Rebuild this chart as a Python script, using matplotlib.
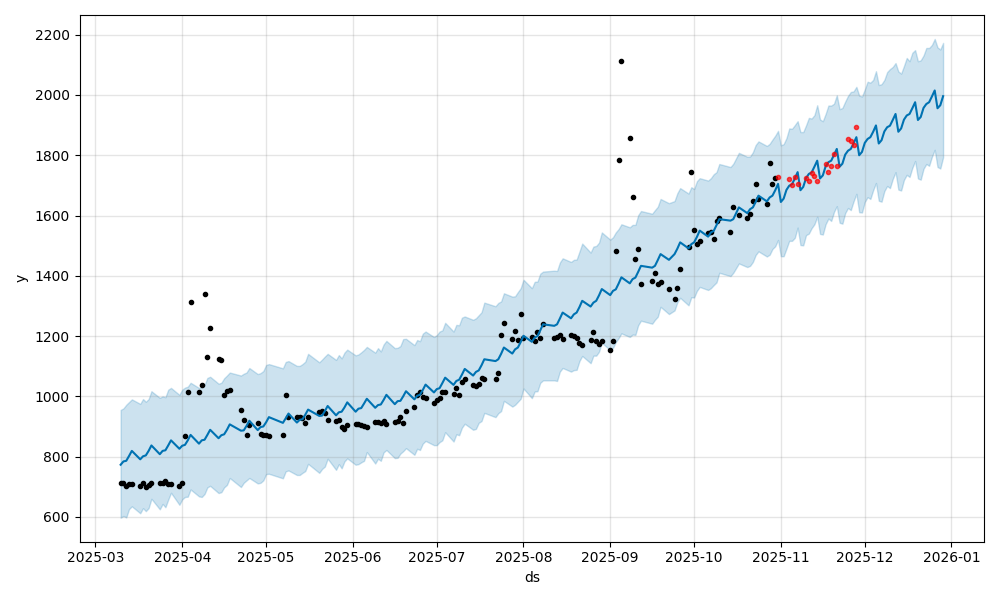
import matplotlib
matplotlib.use("Agg")
import matplotlib.pyplot as plt
import pandas as pd

# ---------------- observed (training) data, business days ----------------
train_weeks = [
    (["2025-03-10", "2025-03-11", "2025-03-12", "2025-03-13", "2025-03-14"], [712, 712, 701, 710, 710]),
    (["2025-03-17", "2025-03-18", "2025-03-19", "2025-03-20", "2025-03-21"], [703, 712, 699, 706, 712]),
    (["2025-03-24", "2025-03-25", "2025-03-26", "2025-03-27", "2025-03-28"], [712, 714, 718, 710, 710]),
    (["2025-03-31", "2025-04-01", "2025-04-02", "2025-04-03", "2025-04-04"], [701, 712, 867, 1014, 1313]),
    (["2025-04-07", "2025-04-08", "2025-04-09", "2025-04-10", "2025-04-11"], [1014, 1037, 1339, 1130, 1226]),
    (["2025-04-14", "2025-04-15", "2025-04-16", "2025-04-17", "2025-04-18"], [1124, 1122, 1004, 1018, 1022]),
    (["2025-04-22", "2025-04-23", "2025-04-24", "2025-04-25"], [955, 922, 871, 905]),
    (["2025-04-28", "2025-04-29", "2025-04-30", "2025-05-01", "2025-05-02"], [911, 876, 872, 872, 870]),
    (["2025-05-07", "2025-05-08", "2025-05-09"], [871, 1005, 931]),
    (["2025-05-12", "2025-05-13", "2025-05-14", "2025-05-15", "2025-05-16"], [931, 931, 928, 911, 931]),
    (["2025-05-20", "2025-05-21", "2025-05-22", "2025-05-23"], [948, 951, 944, 921]),
    (["2025-05-26", "2025-05-27", "2025-05-28", "2025-05-29", "2025-05-30"], [918, 921, 898, 891, 904]),
    (["2025-06-02", "2025-06-03", "2025-06-04", "2025-06-05", "2025-06-06"], [908, 908, 904, 901, 898]),
    (["2025-06-09", "2025-06-10", "2025-06-11", "2025-06-12", "2025-06-13"], [914, 914, 911, 918, 908]),
    (["2025-06-16", "2025-06-17", "2025-06-18", "2025-06-19", "2025-06-20"], [914, 918, 931, 911, 951]),
    (["2025-06-23", "2025-06-24", "2025-06-25", "2025-06-26", "2025-06-27"], [964, 1004, 1016, 999, 996]),
    (["2025-06-30", "2025-07-01", "2025-07-02", "2025-07-03", "2025-07-04"], [979, 987, 994, 1013, 1016]),
    (["2025-07-07", "2025-07-08", "2025-07-09", "2025-07-10", "2025-07-11"], [1007, 1027, 1004, 1049, 1057]),
    (["2025-07-14", "2025-07-15", "2025-07-16", "2025-07-17", "2025-07-18"], [1036, 1033, 1040, 1062, 1057]),
    (["2025-07-22", "2025-07-23", "2025-07-24", "2025-07-25"], [1057, 1079, 1203, 1243]),
    (["2025-07-28", "2025-07-29", "2025-07-30", "2025-07-31", "2025-08-01"], [1190, 1216, 1187, 1273, 1193]),
    (["2025-08-04", "2025-08-05", "2025-08-06", "2025-08-07", "2025-08-08"], [1196, 1183, 1213, 1193, 1240]),
    (["2025-08-12", "2025-08-13", "2025-08-14", "2025-08-15"], [1193, 1196, 1203, 1190]),
    (["2025-08-18", "2025-08-19", "2025-08-20", "2025-08-21", "2025-08-22"], [1203, 1200, 1193, 1177, 1170]),
    (["2025-08-25", "2025-08-26", "2025-08-27", "2025-08-28", "2025-08-29"], [1187, 1213, 1183, 1173, 1183]),
    (["2025-09-01", "2025-09-02", "2025-09-03", "2025-09-04", "2025-09-05"], [1154, 1183, 1482, 1785, 2114]),
    (["2025-09-08", "2025-09-09", "2025-09-10", "2025-09-11", "2025-09-12"], [1857, 1662, 1455, 1489, 1372]),
    (["2025-09-16", "2025-09-17", "2025-09-18", "2025-09-19"], [1383, 1409, 1372, 1380]),
    (["2025-09-22", "2025-09-24", "2025-09-25", "2025-09-26"], [1356, 1324, 1359, 1422]),
    (["2025-09-29", "2025-09-30", "2025-10-01", "2025-10-02", "2025-10-03"], [1497, 1744, 1553, 1507, 1515]),
    (["2025-10-06", "2025-10-07", "2025-10-08", "2025-10-09", "2025-10-10"], [1542, 1547, 1522, 1582, 1592]),
    (["2025-10-14", "2025-10-15", "2025-10-17"], [1545, 1629, 1601]),
    (["2025-10-20", "2025-10-21", "2025-10-22", "2025-10-23", "2025-10-24"], [1592, 1605, 1648, 1704, 1656]),
    (["2025-10-27", "2025-10-28", "2025-10-29", "2025-10-30"], [1638, 1774, 1704, 1725]),
]

# ---------------- test data (red) ----------------
test_dates = ["2025-10-31", "2025-11-04", "2025-11-05", "2025-11-06", "2025-11-07",
              "2025-11-10", "2025-11-11", "2025-11-12", "2025-11-13", "2025-11-14",
              "2025-11-17", "2025-11-18", "2025-11-19", "2025-11-20", "2025-11-21",
              "2025-11-25", "2025-11-26", "2025-11-27", "2025-11-28"]
test_values = [1728, 1721, 1701, 1728, 1704,
               1724, 1714, 1741, 1731, 1714,
               1771, 1744, 1764, 1804, 1764,
               1854, 1847, 1834, 1894]

# ---------------- forecast on training dates ----------------
yhat_train_weeks = [
    [773, 784, 786, 802, 819], [791, 801, 804, 819, 837], [808, 819, 821, 837, 854],
    [826, 836, 839, 854, 872], [843, 854, 856, 872, 889], [861, 871, 874, 889, 907],
    [886, 887, 902, 919], [888, 898, 900, 914, 931], [912, 927, 943],
    [913, 922, 924, 939, 956], [935, 936, 951, 968], [937, 947, 949, 963, 980],
    [949, 959, 961, 976, 992], [962, 971, 973, 988, 1005], [974, 984, 985, 1000, 1017],
    [990, 1002, 1005, 1021, 1039], [1013, 1024, 1027, 1044, 1062], [1038, 1051, 1055, 1072, 1091],
    [1069, 1081, 1086, 1103, 1123], [1117, 1123, 1141, 1162], [1142, 1156, 1162, 1180, 1201],
    [1181, 1195, 1200, 1219, 1239], [1234, 1239, 1258, 1278], [1259, 1272, 1278, 1296, 1317],
    [1298, 1311, 1317, 1335, 1356], [1336, 1350, 1355, 1374, 1395], [1375, 1389, 1394, 1413, 1433],
    [1427, 1433, 1452, 1472], [1453, 1472, 1490, 1511], [1491, 1505, 1511, 1529, 1550],
    [1530, 1544, 1549, 1568, 1588], [1583, 1588, 1627], [1608, 1621, 1627, 1645, 1666],
    [1647, 1660, 1666, 1684],
]
upper_gap_train_weeks = [
    [182, 176, 186, 179, 171], [184, 190, 178, 172, 180], [187, 181, 176, 185, 174],
    [179, 186, 190, 178, 173], [185, 177, 182, 189, 176], [181, 174, 186, 180, 172],
    [183, 188, 177, 175], [186, 179, 184, 190, 176], [181, 187, 174],
    [188, 179, 183, 176, 185], [178, 186, 181, 173], [184, 190, 177, 182, 175],
    [187, 180, 185, 178, 172], [183, 189, 176, 184, 179], [186, 177, 182, 190, 174],
    [180, 185, 178, 187, 176], [184, 179, 188, 175, 182], [177, 186, 181, 189, 174],
    [185, 178, 183, 176, 188], [182, 187, 174, 180], [189, 176, 184, 179, 186],
    [178, 185, 181, 188, 175], [183, 177, 186, 180], [187, 181, 176, 184, 190],
    [179, 186, 182, 175, 188], [184, 178, 189, 181, 176], [186, 180, 175, 188, 182],
    [179, 185, 177, 183], [188, 176, 184, 180], [182, 189, 177, 185, 174],
    [186, 180, 188, 176, 183], [178, 184, 181], [187, 175, 183, 189, 180],
    [184, 178, 186, 181],
]
lower_gap_train_weeks = [
    [176, 181, 188, 176, 184], [179, 172, 185, 190, 177], [183, 176, 189, 180, 174],
    [186, 178, 173, 187, 181], [175, 188, 180, 174, 186], [182, 189, 176, 183, 178],
    [187, 174, 181, 190], [177, 185, 179, 172, 188], [184, 176, 189],
    [174, 183, 178, 187, 180], [189, 177, 184, 175], [181, 172, 188, 179, 186],
    [176, 184, 180, 190, 177], [185, 178, 187, 174, 183], [179, 188, 175, 182, 189],
    [184, 176, 183, 178, 187], [175, 186, 179, 190, 181], [188, 177, 184, 176, 182],
    [180, 189, 174, 185, 178], [186, 179, 190, 177], [176, 184, 180, 188, 175],
    [187, 179, 183, 174, 186], [181, 188, 176, 184], [177, 185, 190, 179, 183],
    [188, 176, 182, 187, 178], [183, 189, 175, 181, 186], [178, 184, 190, 177, 182],
    [186, 179, 188, 175], [180, 187, 178, 184], [189, 176, 183, 179, 187],
    [177, 185, 180, 190, 178], [184, 178, 186], [179, 188, 181, 176, 185],
    [183, 190, 177, 186],
]

# ---------------- forecast on future dates (daily, 2025-10-31 .. 2025-12-29) ----------------
future_start = "2025-10-31"
future_end = "2025-12-29"
yhat_future = [1705,
               1645, 1656, 1685, 1699, 1704, 1723, 1744,
               1684, 1695, 1724, 1738, 1743, 1762, 1782,
               1723, 1733, 1763, 1777, 1782, 1801, 1821,
               1762, 1772, 1802, 1815, 1821, 1839, 1860,
               1800, 1811, 1841, 1854, 1860, 1878, 1899,
               1839, 1850, 1879, 1893, 1898, 1917, 1937,
               1878, 1889, 1918, 1932, 1937, 1956, 1976,
               1917, 1927, 1957, 1970, 1976, 1995, 2015,
               1956, 1966, 1996]
upper_gap_future = [176,
                    188, 181, 172, 190, 184, 177, 169,
                    193, 182, 175, 186, 179, 171, 184,
                    196, 180, 174, 188, 183, 170, 178,
                    191, 185, 176, 182, 189, 173, 167,
                    198, 184, 177, 190, 181, 172, 180,
                    194, 186, 171, 183, 188, 176, 169,
                    200, 182, 178, 191, 175, 184, 173,
                    195, 188, 174, 186, 180, 171, 171,
                    202, 185, 177]
lower_gap_future = [186,
                    180, 191, 195, 183, 188, 197, 184,
                    182, 194, 189, 198, 185, 191, 186,
                    184, 196, 192, 187, 200, 189, 190,
                    186, 199, 194, 190, 203, 192, 188,
                    189, 201, 196, 193, 205, 194, 191,
                    190, 204, 198, 195, 207, 196, 193,
                    192, 206, 200, 197, 209, 198, 195,
                    194, 208, 202, 199, 211, 200, 197,
                    195, 210, 203]

# ---------------- assemble ----------------
train_dates = [d for w in train_weeks for d in w[0]]
train_values = [v for w in train_weeks for v in w[1]]
yhat_train = [v for w in yhat_train_weeks for v in w]
ug_train = [v for w in upper_gap_train_weeks for v in w]
lg_train = [v for w in lower_gap_train_weeks for v in w]

fc_dates = list(pd.to_datetime(train_dates)) + list(pd.date_range(future_start, future_end, freq="D"))
yhat = yhat_train + yhat_future
ugap = ug_train + upper_gap_future
lgap = lg_train + lower_gap_future
n = min(len(fc_dates), len(yhat), len(ugap), len(lgap))
fc_dates, yhat, ugap, lgap = fc_dates[:n], yhat[:n], ugap[:n], lgap[:n]
yhat_upper = [a + b for a, b in zip(yhat, ugap)]
yhat_lower = [a - b for a, b in zip(yhat, lgap)]

# ---------------- plot ----------------
fig, ax = plt.subplots(figsize=(10, 6), dpi=100)
ax.plot(pd.to_datetime(train_dates), train_values, 'k.')
ax.plot(fc_dates, yhat, ls='-', c='#0072B2')
ax.fill_between(fc_dates, yhat_lower, yhat_upper, color='#0072B2', alpha=0.2)
ax.plot(pd.to_datetime(test_dates), test_values, '.', color='red', alpha=0.7)
ax.grid(True, which='major', c='gray', ls='-', lw=1, alpha=0.2)
ax.set_xlabel('ds')
ax.set_ylabel('y')
fig.tight_layout()
fig.savefig("out.png", dpi=100)
